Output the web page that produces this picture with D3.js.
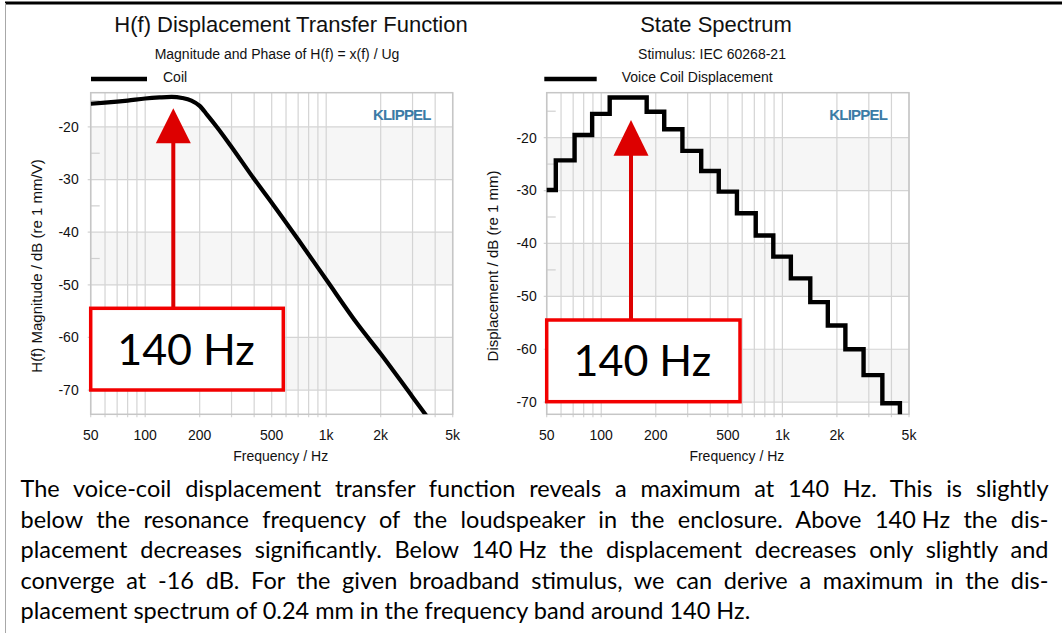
<!DOCTYPE html>
<meta charset="utf-8">
<script src="https://cdnjs.cloudflare.com/ajax/libs/d3/7.8.5/d3.min.js"></script>
<style>
  body { margin: 0; background: #fff; }
  svg { display: block; }
</style>
<div id="chart"></div>
<script>

const width = 1062, height = 633;

// H(f) displacement transfer function, magnitude in dB (re 1 mm/V)
const hfFreq = [50, 60, 70, 80, 100, 120, 140, 160, 180, 200, 220, 250, 300, 400, 500, 700, 1000, 1500, 2000, 3000, 3600];
const hfMag  = [-15.6, -15.4, -15.2, -15.0, -14.6, -14.4, -14.3, -14.5, -15.0, -16.0, -17.7, -20.1, -23.8, -29.9, -34.4, -41.4, -49.0, -57.6, -63.1, -71.3, -75.0];

// state spectrum, third-octave bands, dB (re 1 mm)
const bandFreq  = [50, 63, 80, 100, 125, 160, 200, 250, 315, 400, 500, 630, 800, 1000, 1250, 1600, 2000, 2500, 3150, 4000, 5000];
const bandLevel = [-29.9, -24.3, -19.5, -15.5, -12.4, -12.4, -15.1, -18.4, -22.5, -26.3, -30.2, -34.3, -38.5, -42.5, -46.6, -51.1, -55.5, -60.0, -64.9, -70.2, -76.0];

// axis ticks
const xTickValues = [50, 100, 200, 500, 1000, 2000, 5000];
const xTickLabels = ["50", "100", "200", "500", "1k", "2k", "5k"];
const yTickValues = [-20, -30, -40, -50, -60, -70];
const yMinorTicks = [-15, -25, -35, -45, -55, -65];
const shadedBands = [[-30, -20], [-50, -40], [-70, -60]];

const bodyLines = [
  "The voice-coil displacement transfer function reveals a maximum at 140 Hz. This is slightly",
  "below the resonance frequency of the loudspeaker in the enclosure. Above 140\u2005Hz the dis-",
  "placement decreases significantly. Below 140\u2005Hz the displacement decreases only slightly and",
  "converge at -16 dB. For the given broadband stimulus, we can derive a maximum in the dis-",
  "placement spectrum of 0.24 mm in the frequency band around 140 Hz."
];

const chartFont = "'Liberation Sans', Arial, sans-serif";
const textFont = "Lato, 'Open Sans', sans-serif";

const svg = d3.select("#chart")
  .append("svg")
    .attr("width", width)
    .attr("height", height);

svg.append("rect").attr("width", width).attr("height", height).attr("fill", "#fff");

// page frame
svg.append("line").attr("x1", 5).attr("x2", width).attr("y1", 3).attr("y2", 3)
  .attr("stroke", "#000").attr("stroke-width", 3);
svg.append("line").attr("x1", 5.5).attr("x2", 5.5).attr("y1", 3).attr("y2", height)
  .attr("stroke", "#a8a8a8").attr("stroke-width", 1);

function panel(o) {
  const g = svg.append("g");
  const x = d3.scaleLog().domain([50, 5000]).range([o.x0, o.x1]);
  const y = d3.scaleLinear().domain(o.yDomain).range([o.y1, o.y0]);

  // shaded bands
  g.selectAll(".band")
    .data(shadedBands)
    .join("rect")
      .attr("x", o.x0)
      .attr("width", o.x1 - o.x0)
      .attr("y", d => y(d[1]))
      .attr("height", d => y(d[0]) - y(d[1]))
      .attr("fill", "#f6f6f6");

  // vertical grid
  g.selectAll(".vgrid")
    .data(x.ticks())
    .join("line")
      .attr("x1", d => x(d)).attr("x2", d => x(d))
      .attr("y1", o.y0).attr("y2", o.y1 + 3)
      .attr("stroke", "#d4d4d4").attr("stroke-width", 1.2);

  // horizontal grid
  g.selectAll(".hgrid")
    .data(yTickValues)
    .join("line")
      .attr("x1", o.x0 - 3).attr("x2", o.x1)
      .attr("y1", d => y(d)).attr("y2", d => y(d))
      .attr("stroke", "#d4d4d4").attr("stroke-width", 1.2);

  // minor ticks
  g.selectAll(".minor")
    .data(yMinorTicks.filter(d => d < o.yDomain[1] && d > o.yDomain[0]))
    .join("line")
      .attr("x1", o.x0).attr("x2", o.x0 + 9)
      .attr("y1", d => y(d)).attr("y2", d => y(d))
      .attr("stroke", "#d0d0d0").attr("stroke-width", 1.2);

  // plot border
  g.append("rect")
    .attr("x", o.x0).attr("y", o.y0)
    .attr("width", o.x1 - o.x0).attr("height", o.y1 - o.y0)
    .attr("fill", "none").attr("stroke", "#c6c6c6").attr("stroke-width", 1.5);

  g.append("text")
    .attr("x", o.x1 - 22).attr("y", 120)
    .attr("text-anchor", "end")
    .attr("font-family", chartFont).attr("font-weight", "bold")
    .attr("font-size", 15).attr("letter-spacing", -0.8)
    .attr("fill", "#3b7ba6")
    .text("KLIPPEL");

  // clip for data
  svg.append("clipPath").attr("id", o.id)
    .append("rect")
      .attr("x", o.x0).attr("y", o.y0)
      .attr("width", o.x1 - o.x0).attr("height", o.y1 - o.y0);

  // tick labels
  g.selectAll(".xl")
    .data(xTickValues)
    .join("text")
      .attr("x", d => x(d))
      .attr("y", 440)
      .attr("text-anchor", "middle")
      .attr("font-family", chartFont).attr("font-size", 14)
      .attr("fill", "#111")
      .text((d, i) => xTickLabels[i]);

  g.selectAll(".yl")
    .data(yTickValues)
    .join("text")
      .attr("x", o.x0 - o.labelGap)
      .attr("y", d => y(d))
      .attr("dy", "0.35em")
      .attr("text-anchor", "end")
      .attr("font-family", chartFont).attr("font-size", 14)
      .attr("fill", "#111")
      .text(d => d);

  // axis titles
  g.append("text")
    .attr("x", (o.x0 + o.x1) / 2 + 9).attr("y", 461)
    .attr("text-anchor", "middle")
    .attr("font-family", chartFont).attr("font-size", 14)
    .attr("fill", "#111")
    .text("Frequency / Hz");

  g.append("text")
    .attr("transform", `translate(${o.x0 - 49},266) rotate(-90)`)
    .attr("text-anchor", "middle")
    .attr("font-family", chartFont).attr("font-size", 15)
    .attr("fill", "#111")
    .text(o.yTitle);

  // title, subtitle, legend
  g.append("text")
    .attr("x", o.titleX).attr("y", 32)
    .attr("text-anchor", "middle")
    .attr("font-family", chartFont).attr("font-size", 22)
    .attr("fill", "#111")
    .text(o.title);

  g.append("text")
    .attr("x", o.subX).attr("y", 59)
    .attr("text-anchor", "middle")
    .attr("font-family", chartFont).attr("font-size", 14)
    .attr("fill", "#111")
    .text(o.subtitle);

  g.append("line")
    .attr("x1", o.legX).attr("x2", o.legX + o.legLen)
    .attr("y1", 79).attr("y2", 79)
    .attr("stroke", "#000").attr("stroke-width", 4.5);

  g.append("text")
    .attr("x", o.legTextX).attr("y", 82)
    .attr("font-family", chartFont).attr("font-size", 14)
    .attr("fill", "#111")
    .text(o.legend);

  return { g, x, y };
}

// left panel: H(f)
const left = panel({
  id: "clipL", x0: 90.7, x1: 452.7, y0: 92.7, y1: 414.3,
  yDomain: [-74.6, -13.5], labelGap: 12,
  yTitle: "H(f) Magnitude / dB (re 1 mm/V)",
  title: "H(f) Displacement Transfer Function", titleX: 291,
  subtitle: "Magnitude and Phase of H(f) = x(f) / Ug", subX: 277,
  legend: "Coil", legX: 91, legLen: 56, legTextX: 163
});

const hfLine = d3.line()
  .x(d => left.x(d[0]))
  .y(d => left.y(d[1]))
  .curve(d3.curveMonotoneX);

left.g.append("path")
  .datum(d3.zip(hfFreq, hfMag))
  .attr("clip-path", "url(#clipL)")
  .attr("d", hfLine)
  .attr("fill", "none")
  .attr("stroke", "#000")
  .attr("stroke-width", 4.2)
  .attr("stroke-linejoin", "round");

// right panel: state spectrum
const right = panel({
  id: "clipR", x0: 546.7, x1: 909, y0: 92.7, y1: 414.3,
  yDomain: [-72.3, -11.5], labelGap: 10,
  yTitle: "Displacement / dB (re 1 mm)",
  title: "State Spectrum", titleX: 716,
  subtitle: "Stimulus: IEC 60268-21", subX: 712,
  legend: "Voice Coil Displacement", legX: 544.3, legLen: 52.4, legTextX: 621.7
});

// third-octave band edges from band centres
const stepPts = bandFreq.map((f, i) => [f * Math.pow(2, -1 / 6), bandLevel[i]]);
stepPts.push([bandFreq[bandFreq.length - 1] * Math.pow(2, 1 / 6), bandLevel[bandLevel.length - 1]]);

const stepLine = d3.line()
  .x(d => right.x(d[0]))
  .y(d => right.y(d[1]))
  .curve(d3.curveStepAfter);

right.g.append("path")
  .datum(stepPts)
  .attr("clip-path", "url(#clipR)")
  .attr("d", stepLine)
  .attr("fill", "none")
  .attr("stroke", "#000")
  .attr("stroke-width", 4.4)
  .attr("stroke-linejoin", "miter");

// red annotations
function annotate(p, freq, tipY, baseY, box) {
  const ax = p.x(freq);
  p.g.append("line")
    .attr("x1", ax).attr("x2", ax)
    .attr("y1", box.y0).attr("y2", baseY - 1)
    .attr("stroke", "#dd0000").attr("stroke-width", 4);
  p.g.append("path")
    .attr("d", `M${ax},${tipY} L${ax - 17.5},${baseY} L${ax + 17.5},${baseY} Z`)
    .attr("fill", "#dd0000");
  p.g.append("rect")
    .attr("x", box.x0).attr("y", box.y0)
    .attr("width", box.x1 - box.x0).attr("height", box.y1 - box.y0)
    .attr("fill", "#fff")
    .attr("stroke", "#f20000").attr("stroke-width", 3.5);
  p.g.append("text")
    .attr("x", (box.x0 + box.x1) / 2 - 1)
    .attr("y", (box.y0 + box.y1) / 2)
    .attr("dy", "0.36em")
    .attr("text-anchor", "middle")
    .attr("font-family", textFont)
    .attr("font-size", 43)
    .attr("fill", "#000")
    .text("140 Hz");
}

annotate(left, 143, 108.3, 143.3, { x0: 90.7, x1: 283.3, y0: 308.3, y1: 390 });
annotate(right, 146, 120, 155.7, { x0: 546.7, x1: 740, y0: 320, y1: 401.7 });

// justified paragraph, glyphs narrowed a little to get closer to the original face
const textX0 = 20.5, textX1 = 1048.5, bodySize = 23.5;
const para = svg.append("g");
const lineG = para.selectAll("g")
  .data(bodyLines)
  .join("g");
const lines = lineG.append("text")
    .attr("x", 0)
    .attr("y", 0)
    .attr("font-family", textFont)
    .attr("font-size", bodySize)
    .attr("fill", "#000")
    .text(d => d);

let maxW = 0;
lines.each(function(d, i) {
  if (i < bodyLines.length - 1) maxW = Math.max(maxW, this.getComputedTextLength() + (d.split(" ").length - 1) * 1.5);
});
const sx = Math.min(1, (textX1 - textX0) / maxW);
lineG.attr("transform", (d, i) => `translate(${textX0},${497 + i * 30.5}) scale(${sx},1)`);

lines.each(function(d, i) {
  if (i === bodyLines.length - 1) return;
  const n = d.split(" ").length - 1;
  const w = this.getComputedTextLength();
  d3.select(this).style("word-spacing", (((textX1 - textX0) / sx - w) / n) + "px");
});

</script>
